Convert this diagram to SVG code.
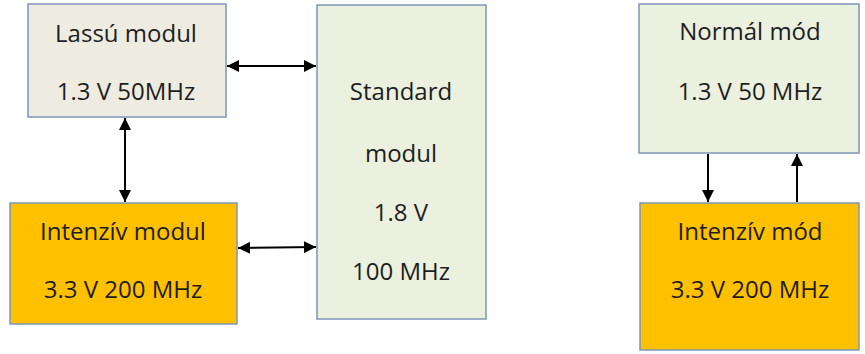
<svg xmlns="http://www.w3.org/2000/svg" width="865" height="354" viewBox="0 0 865 354">
<defs>
<marker id="ah" viewBox="0 0 12 12" refX="12" refY="6" markerWidth="12" markerHeight="12" markerUnits="userSpaceOnUse" orient="auto-start-reverse"><path d="M0,0 L12,6 L0,12 z" fill="#000"/></marker>
<style>
.box{stroke:#7F96B8;stroke-width:1.5}
.t{font-family:"Open Sans","Liberation Sans",sans-serif;font-size:24px;fill:#1e1e1e;text-anchor:middle}
.c{stroke:#000;stroke-width:2;fill:none}
</style>
</defs>
<rect width="865" height="354" fill="#fff"/>
<g id="lassu">
<rect class="box" x="28" y="4" width="198" height="113" fill="#EEECE1"/>
<text class="t" x="126" y="42">Lassú modul</text>
<text class="t" x="126" y="100">1.3 V 50MHz</text>
</g>
<g id="intenziv-modul">
<rect class="box" x="10" y="203" width="227" height="121" fill="#FFC000"/>
<text class="t" x="123" y="240">Intenzív modul</text>
<text class="t" x="123" y="298">3.3 V 200 MHz</text>
</g>
<g id="standard">
<rect class="box" x="317" y="5" width="169" height="314" fill="#EBF1DE"/>
<text class="t" x="401" y="100">Standard</text>
<text class="t" x="401" y="162">modul</text>
<text class="t" x="401" y="221">1.8 V</text>
<text class="t" x="401" y="280">100 MHz</text>
</g>
<g id="normal-mod">
<rect class="box" x="639" y="4" width="220" height="149" fill="#EBF1DE"/>
<text class="t" x="750" y="40">Normál mód</text>
<text class="t" x="750" y="100">1.3 V 50 MHz</text>
</g>
<g id="intenziv-mod">
<rect class="box" x="640" y="203" width="219" height="147" fill="#FFC000"/>
<text class="t" x="750" y="240">Intenzív mód</text>
<text class="t" x="750" y="298">3.3 V 200 MHz</text>
</g>
<g id="connectors">
<line class="c" x1="227" y1="66" x2="316" y2="66" marker-start="url(#ah)" marker-end="url(#ah)"/>
<line class="c" x1="125" y1="118" x2="125" y2="202" marker-start="url(#ah)" marker-end="url(#ah)"/>
<line class="c" x1="238" y1="248" x2="316" y2="247" marker-start="url(#ah)" marker-end="url(#ah)"/>
<line class="c" x1="708" y1="154" x2="708" y2="202" marker-end="url(#ah)"/>
<line class="c" x1="797" y1="202" x2="797" y2="154" marker-end="url(#ah)"/>
</g>
</svg>
